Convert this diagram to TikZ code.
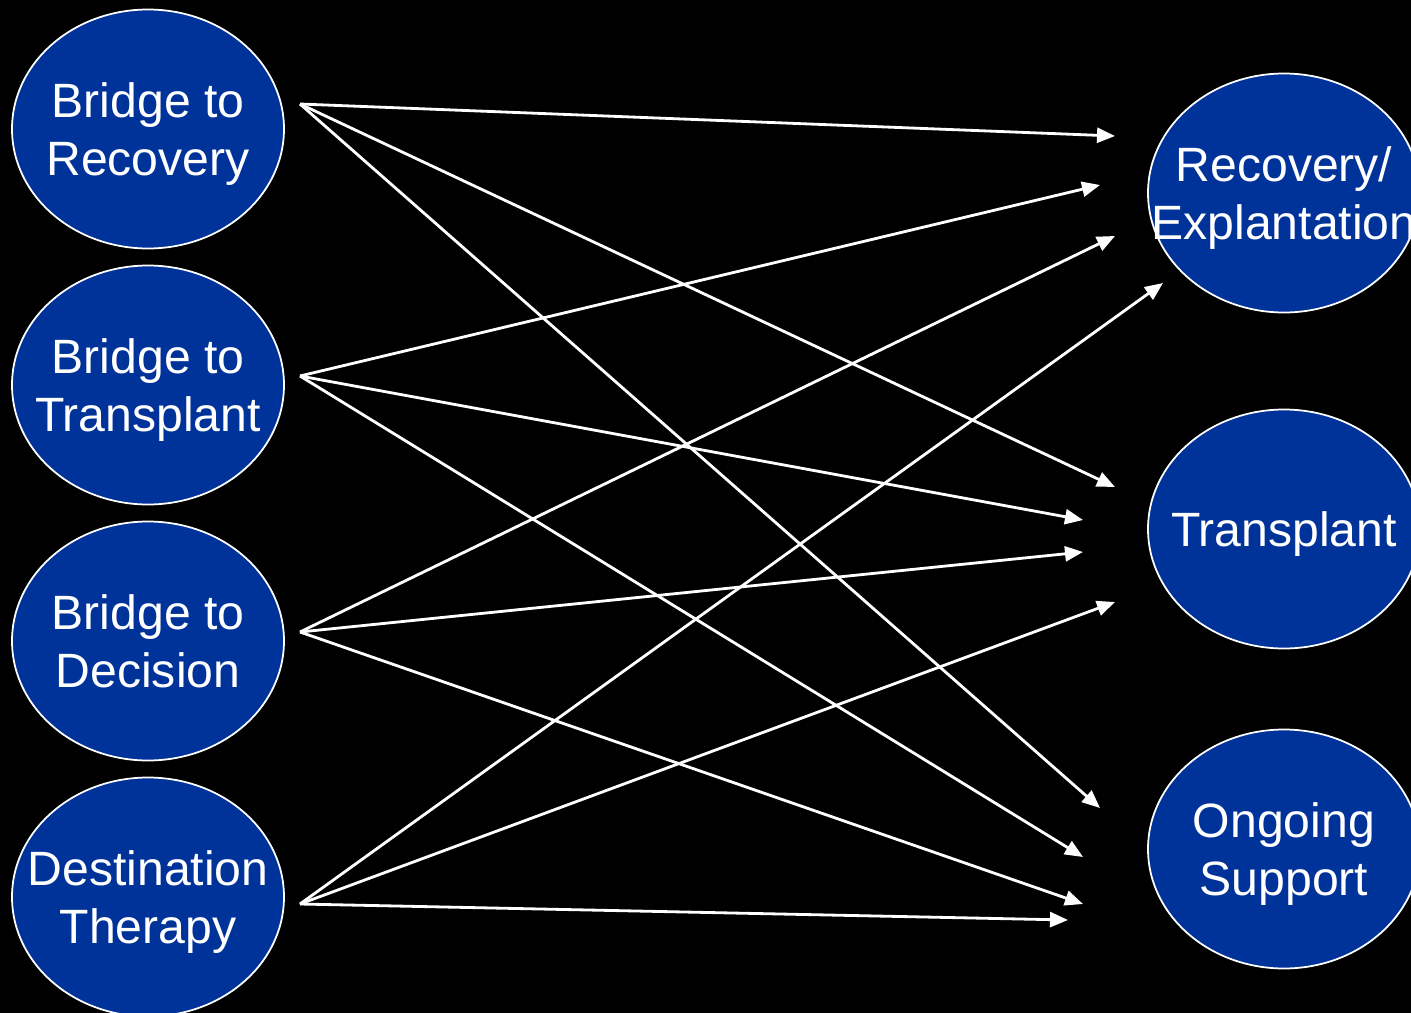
\documentclass[tikz,border=0pt]{standalone}
\usepackage{fontspec}
\setmainfont{Liberation Sans}
\usetikzlibrary{shapes.geometric, arrows.meta}

\begin{document}
\begin{tikzpicture}[
        stage/.style={ellipse, draw=white, line width=0.5pt, fill={rgb,255:red,0;green,51;blue,153},
            minimum width=2.72cm, minimum height=2.39cm, inner xsep=-0.5cm, inner ysep=0pt,
            text=white, align=center, text depth=0pt, font=\fontsize{13.7}{16.5}\selectfont},
        path/.style={white, line width=0.8pt, -{Triangle[length=1.8mm, width=1.5mm]}}
    ]

        % Background and page size
        \fill[black] (0,0) rectangle (14.11,-10.13);
        \useasboundingbox (0,0) rectangle (14.11,-10.13);

        % Indications (left) and outcomes (right)
        \node[stage] (btr) at (1.48,-1.29) {Bridge to\\Recovery};
        \node[stage] (btt) at (1.48,-3.85) {Bridge to\\Transplant};
        \node[stage] (btd) at (1.48,-6.41) {Bridge to\\Decision};
        \node[stage] (dt)  at (1.48,-8.97) {Destination\\Therapy};

        \node[stage] (rec) at (12.84,-1.93) {Recovery/\\Explantation};
        \node[stage] (tx)  at (12.84,-5.29) {Transplant};
        \node[stage] (os)  at (12.84,-8.49) {Ongoing\\Support};

        % Start points of the arrows
        \coordinate (btr-out) at (3.00,-1.04);
        \coordinate (btt-out) at (3.00,-3.76);
        \coordinate (btd-out) at (3.00,-6.32);
        \coordinate (dt-out)  at (3.00,-9.04);

        % End points in front of the outcomes
        \coordinate (rec-in1) at (11.15,-1.36);
        \coordinate (rec-in2) at (11.00,-1.85);
        \coordinate (rec-in3) at (11.15,-2.36);
        \coordinate (rec-in4) at (11.63,-2.83);

        \coordinate (tx-in1) at (11.15,-4.87);
        \coordinate (tx-in2) at (10.83,-5.20);
        \coordinate (tx-in3) at (10.83,-5.52);
        \coordinate (tx-in4) at (11.15,-6.02);

        \coordinate (os-in1) at (11.00,-8.08);
        \coordinate (os-in2) at (10.83,-8.57);
        \coordinate (os-in3) at (10.83,-9.04);
        \coordinate (os-in4) at (10.68,-9.20);

        % Bridge to Recovery
        \draw[path] (btr-out) -- (rec-in1);
        \draw[path] (btr-out) -- (tx-in1);
        \draw[path] (btr-out) -- (os-in1);

        % Bridge to Transplant
        \draw[path] (btt-out) -- (rec-in2);
        \draw[path] (btt-out) -- (tx-in2);
        \draw[path] (btt-out) -- (os-in2);

        % Bridge to Decision
        \draw[path] (btd-out) -- (rec-in3);
        \draw[path] (btd-out) -- (tx-in3);
        \draw[path] (btd-out) -- (os-in3);

        % Destination Therapy
        \draw[path] (dt-out) -- (rec-in4);
        \draw[path] (dt-out) -- (tx-in4);
        \draw[path] (dt-out) -- (os-in4);

    \end{tikzpicture}
\end{document}
